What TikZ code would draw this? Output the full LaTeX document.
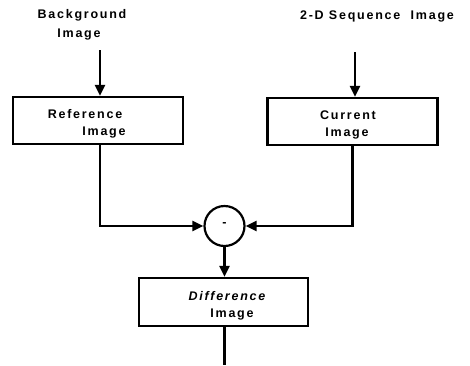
\documentclass[tikz,border=0pt]{standalone}
\usepackage{fontspec}
\setmainfont{Liberation Sans}
\newfontfamily\lblfont[LetterSpace=14]{Liberation Sans}
\usetikzlibrary{arrows.meta}
\begin{document}
\begin{tikzpicture}[x=1pt,y=-1pt,
  box/.style={draw,line width=2.2pt,minimum width=170pt,minimum height=47pt,inner sep=0pt},
  txt/.style={font=\lblfont\bfseries\fontsize{12.5}{14}\selectfont,inner sep=0pt,anchor=center},
  conn/.style={line width=2.2pt,-{Triangle[length=11pt,width=10pt]}},
  plain/.style={line width=2.2pt}]
\useasboundingbox (0,0) rectangle (470,365);
% labels at top
\node[txt] (bg1) at (82,15) {Background};
\node[txt] (bg2) at (79,35) {Image};
\node[txt] (seq) at (377,16) {2-D Sequence\ \ Image};
% boxes
\node[box] (ref) at (98,120.5) {};
\node[txt] (ref1) at (85,114) {Reference};
\node[txt] (ref2) at (104,133) {Image};
\node[box] (cur) at (352.5,121.5) {};
\node[txt] (cur1) at (348,115) {Current};
\node[txt] (cur2) at (347,134) {Image};
\node[draw,circle,line width=2.2pt,minimum size=40pt,inner sep=0pt] (sub) at (224.5,226) {};
\node[txt] (minus) at (224.5,224) {-};
\node[box,minimum width=169pt,minimum height=48pt] (diff) at (223.5,302) {};
\node[txt,font=\lblfont\bfseries\itshape\fontsize{12.5}{14}\selectfont] (diff1) at (227,296) {Difference};
\node[txt] (diff2) at (232,315) {Image};
% coordinates
\coordinate (a1) at (100,50);
\coordinate (a2) at (355,52);
\coordinate (a3) at (352.5,0);
\coordinate (out) at (224.5,365);
% connectors
\draw[conn] (a1) -- (a1 |- ref.north);
\draw[conn] (a2) -- (a2 |- cur.north);
\draw[conn] (ref.south -| a1) |- (sub.west);
\draw[conn] (cur.south -| a3) |- (sub.east);
\draw[conn] (sub.south) -- (diff.north -| sub.south);
\draw[plain] (diff.south -| out) -- (out);
\end{tikzpicture}
\end{document}
